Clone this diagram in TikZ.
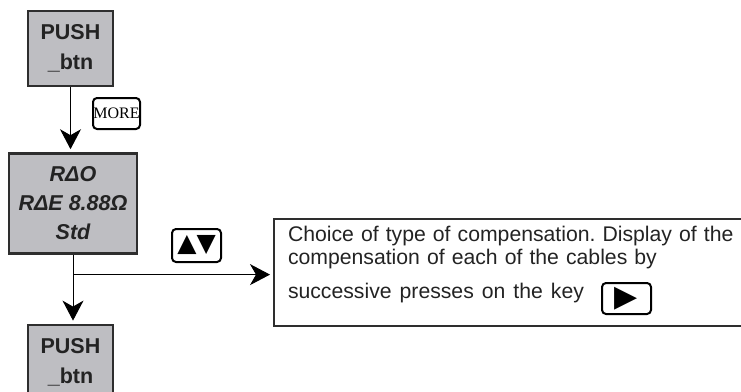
\documentclass[tikz,border=0pt]{standalone}
\usepackage{fontspec}
\setmainfont{Liberation Sans}
\newfontfamily\keyserif{Liberation Serif}
\newfontfamily\keysym{DejaVu Sans}
\usetikzlibrary{positioning,arrows.meta,calc}
\definecolor{dispgray}{HTML}{BEBEC2}
\definecolor{framegray}{HTML}{2E2E2E}
\definecolor{inkgray}{HTML}{232323}
\frenchspacing
\tikzset{
  >={Stealth[length=20pt,width=21pt,inset=6pt]},
  dispbox/.style={draw=framegray,fill=dispgray,line width=2.4pt,
    minimum width=85pt,minimum height=75pt,inner sep=0pt,align=center,
    text=inkgray,font=\fontsize{21.5}{30}\selectfont\bfseries},
  dispital/.style={dispbox,minimum width=128pt,minimum height=100pt,
    font=\fontsize{21.5}{29}\selectfont\bfseries\itshape},
  keybox/.style={draw=black,line width=2pt,rounded corners=4pt,
    inner sep=0pt,minimum width=49pt,minimum height=33pt},
  infobox/.style={draw=framegray,line width=2pt,anchor=north west,
    inner xsep=14pt,inner ysep=0pt,text width=460pt,align=left,
    text height=22pt,text depth=85pt,text=inkgray,
    font=\fontsize{21.2}{23.5}\selectfont},
  flow/.style={->,line width=1pt,shorten >=3pt},
  stem/.style={line width=1pt},
}
\begin{document}
\begin{tikzpicture}[x=1pt,y=-1pt]
  \useasboundingbox (0,0) rectangle (741,391);
  % display screens
  \node[dispbox] (push1) at (70.5,48.5) {PUSH\\\_btn};
  \node[dispital,below=65pt of push1,xshift=2.5pt] (comp)
    {RΔO\\RΔE 8.88Ω\\Std};
  \node[dispbox,below=69pt of comp,xshift=-2.5pt] (push2) {PUSH\\\_btn};
  % keys
  \node[keybox,minimum width=47pt,minimum height=31pt,
    font=\keyserif\fontsize{16}{16}\selectfont] (more) at (116.5,113.5) {MORE};
  \node[keybox,font=\keysym\fontsize{25}{25}\selectfont] (updn)
    at (196.5,245.5) {▲▼};
  % explanation
  \node[infobox] (info) at (273,218)
    {Choice of type of compensation. Display of the\\
     compensation of each of the cables by\\[10.5pt]
     {\spaceskip=8pt plus 1pt successive presses on the key}};
  \node[keybox,minimum height=31pt,font=\keysym\fontsize{30}{30}\selectfont]
    (next) at (626.5,298.5) {▶};
  \coordinate (fork) at ($(comp.south)+(0,20)$);
  \draw[flow] (push1.south) -- (push1.south |- comp.north);
  \draw[stem] (comp.south) -- (fork);
  \draw[flow] (fork) -- (fork |- push2.north);
  \draw[flow] (fork) -- (fork -| info.west);
\end{tikzpicture}
\end{document}
